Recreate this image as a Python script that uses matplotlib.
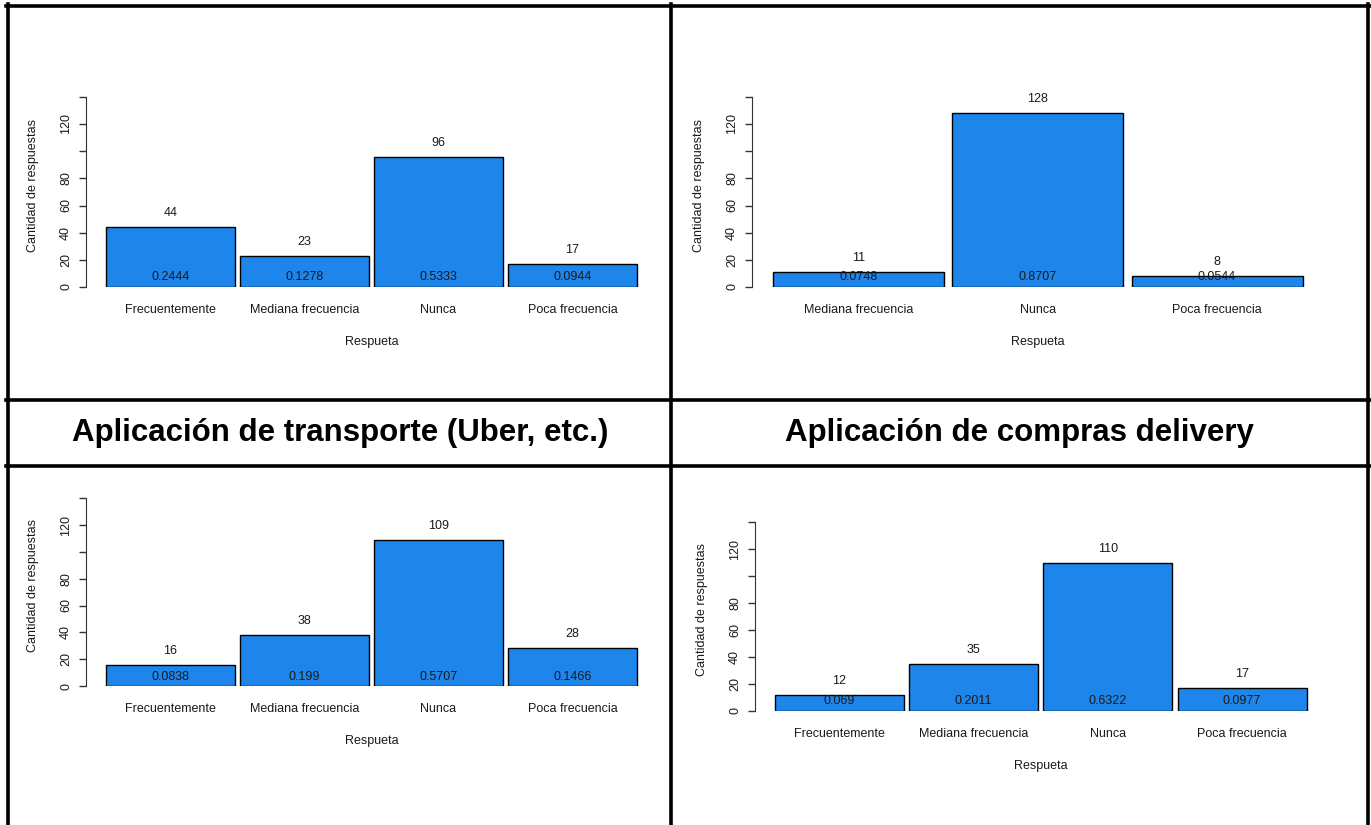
import matplotlib
matplotlib.use("Agg")
import matplotlib.pyplot as plt
from matplotlib.lines import Line2D

plt.rcParams['font.family'] = ['Liberation Sans', 'DejaVu Sans']

W, H = 1371, 825
BAR = '#1E85EA'
TXT = '#1a1a1a'

cats_4 = ['Frecuentemente', 'Mediana frecuencia', 'Nunca', 'Poca frecuencia']
cats_3 = ['Mediana frecuencia', 'Nunca', 'Poca frecuencia']

tl_counts = [44, 23, 96, 17]
tl_props = ['0.2444', '0.1278', '0.5333', '0.0944']
tr_counts = [11, 128, 8]
tr_props = ['0.0748', '0.8707', '0.0544']
bl_counts = [16, 38, 109, 28]
bl_props = ['0.0838', '0.199', '0.5707', '0.1466']
br_counts = [12, 35, 110, 17]
br_props = ['0.069', '0.2011', '0.6322', '0.0977']

yticks = [0, 20, 40, 60, 80, 100, 120, 140]
ytick_labels = ['0', '20', '40', '60', '80', '', '120', '']

title_left = 'Aplicación de transporte (Uber, etc.)'
title_right = 'Aplicación de compras delivery'

PT = 0.72  # points per pixel at dpi 100

fig = plt.figure(figsize=(W / 100, H / 100), dpi=100)


def panel(cats, counts, props, ax_x, y0, sy, c0, pitch, bar_px):
    n = len(cats)
    margin = (c0 - ax_x) / pitch
    width_px = (n - 1) * pitch + 2 * (c0 - ax_x)
    height_px = 150 * sy
    ax = fig.add_axes([ax_x / W, 1 - y0 / H, width_px / W, height_px / H])
    ax.set_xlim(-margin, n - 1 + margin)
    ax.set_ylim(0, 150)
    x = list(range(n))
    ax.bar(x, counts, width=bar_px / pitch, color=BAR, edgecolor='black', linewidth=1.0)
    for s in ['top', 'right', 'bottom']:
        ax.spines[s].set_visible(False)
    ax.spines['left'].set_bounds(0, 140)
    ax.spines['left'].set_color('#333333')
    ax.set_xticks([])
    ax.set_yticks(yticks)
    ax.set_yticklabels(ytick_labels, rotation=90, va='center', fontsize=9, color=TXT)
    ax.tick_params(axis='y', length=5, width=1.0, color='#333333', pad=5)
    for i in x:
        ax.annotate(str(counts[i]), (i, counts[i]), xytext=(0, 14 * PT), textcoords='offset points',
                    ha='center', va='center', fontsize=9, color=TXT, annotation_clip=False)
        ax.annotate(props[i], (i, 0), xytext=(0, 9.5 * PT), textcoords='offset points',
                    ha='center', va='center', fontsize=9, color=TXT)
        ax.annotate(cats[i], (i, 0), xytext=(0, -23 * PT), textcoords='offset points',
                    ha='center', va='center', fontsize=9, color=TXT, annotation_clip=False)
    ax.annotate('Respueta', (0.5, 0), xycoords='axes fraction', xytext=(0, -55 * PT),
                textcoords='offset points', ha='center', va='center', fontsize=9, color=TXT)
    ax.annotate('Cantidad de respuestas', (0, 0.5), xycoords='axes fraction', xytext=(-53 * PT, 0),
                textcoords='offset points', ha='center', va='center', rotation=90,
                fontsize=9, color=TXT)
    return ax


panel(cats_4, tl_counts, tl_props, 86, 287, 163 / 120, 170.5, 134, 129)
panel(cats_3, tr_counts, tr_props, 752, 287, 163 / 120, 858.5, 179.25, 171)
panel(cats_4, bl_counts, bl_props, 86, 686, 161 / 120, 170.5, 134, 129)
panel(cats_4, br_counts, br_props, 755, 711, 162 / 120, 839.5, 134.2, 129)

fig.text(340 / W, 1 - 433 / H, title_left, ha='center', va='center',
         fontsize=22.5, fontweight='bold', color='black')
fig.text(1019 / W, 1 - 433 / H, title_right, ha='center', va='center',
         fontsize=22.5, fontweight='bold', color='black')


def hline(py, x1, x2):
    fig.add_artist(Line2D([x1 / W, x2 / W], [1 - py / H, 1 - py / H], color='black',
                          linewidth=2.6, transform=fig.transFigure))


def vline(px, y1, y2):
    fig.add_artist(Line2D([px / W, px / W], [1 - y1 / H, 1 - y2 / H], color='black',
                          linewidth=2.6, transform=fig.transFigure))


hline(5.5, 6, 1370)
hline(399.5, 6, 1370)
hline(465.5, 6, 1370)
vline(7.5, 4, 825)
vline(671, 4, 825)
vline(1368, 4, 825)

fig.savefig('out.png', dpi=100)
